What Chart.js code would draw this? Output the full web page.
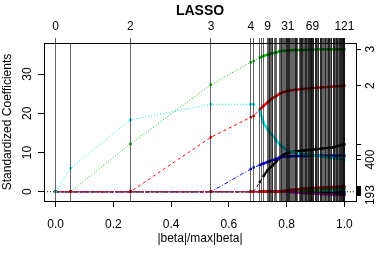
<!DOCTYPE html>
<html><head><meta charset="utf-8">
<script src="https://cdn.jsdelivr.net/npm/chart.js@4.4.1/dist/chart.umd.min.js"></script>
<style>html,body{margin:0;padding:0;background:#fff;}#wrap{width:379px;height:256px;}</style>
</head><body><div id="wrap"><canvas id="c" width="379" height="256"></canvas></div>
<script>
// x positions (|beta|/max|beta|) where the coefficient paths are sampled
const pathX = [0, 0.052, 0.259, 0.538, 0.676, 0.686, 0.707, 0.720, 0.734, 0.750, 0.764, 0.776, 0.790, 0.804, 0.830, 0.860, 0.889, 0.920, 0.960, 1.0];
// coefficient paths
const coefVar3   = [0, 0, 12.2, 27.3, 33.0, 33.3, 34.2, 34.6, 34.9, 35.3, 35.5, 35.8, 35.9, 36.0, 36.1, 36.1, 36.2, 36.3, 36.3, 36.3];
const coefVar2   = [0, 0, 0, 13.9, 19.0, 19.3, 21.0, 21.9, 22.8, 23.8, 24.4, 25.0, 25.4, 25.7, 26.0, 26.2, 26.4, 26.6, 26.8, 27.0];
const coefVar400 = [0, 6.0, 18.3, 22.3, 22.3, 22.3, 20.5, 17.6, 15.8, 14.4, 13.2, 12.0, 11.2, 10.4, 10.0, 9.6, 9.3, 9.0, 8.6, 8.2];
const coefBlue   = [0, 0, 0, 0, 5.8, 6.2, 6.8, 7.2, 7.6, 8.0, 8.4, 8.7, 8.9, 9.0, 9.1, 9.1, 9.2, 9.2, 9.2, 9.2];
const coefBlack  = [0, 0, 0, 0, 0, 0, 2.5, 4.0, 5.5, 6.6, 7.7, 8.7, 9.5, 9.9, 10.3, 10.5, 10.7, 11.0, 11.3, 12.1];
const coefSmallRed     = [0, 0, 0, 0, 0, 0, 0, 0, 0, 0, 0, 0, 0.2, 0.4, 0.6, 0.8, 0.95, 1.1, 1.2, 1.35];
const coefSmallMagenta = [0, 0, 0, 0, 0, 0, 0, 0, 0, 0, 0, 0, 0, 0, -0.2, -0.35, -0.5, -0.6, -0.7, -0.85];
const coefSmallGreen   = [0, 0, 0, 0, 0, 0, 0, 0, 0, 0, 0, 0, 0, 0, 0, 0.3, 0.5, 0.7, 0.85, 1.0];
const coefSmallBlack   = [0, 0, 0, 0, 0, 0, 0, 0, 0, 0, 0, 0, 0, 0, 0, 0, -0.2, -0.3, -0.45, -0.55];
const coefSmallCyan    = [0, 0, 0, 0, 0, 0, 0, 0, 0, 0, 0, 0, 0, 0, 0, 0, 0, 0.2, 0.4, 0.6];
const coefZeroBand     = [0, 0, 0, 0, 0, 0, 0, 0, 0, 0, 0, 0, 0, 0, 0, 0, 0, 0, 0, 0];
// LARS step positions (vertical lines), step index = position in this array
const steps = [0, 0.052, 0.259, 0.538, 0.676, 0.686, 0.707, 0.712, 0.720, 0.734,
  0.7366, 0.7390, 0.7417, 0.7441, 0.7469, 0.7493, 0.7514, 0.7593, 0.7614, 0.7638, 0.7762, 0.7783, 0.7807, 0.7828, 0.7852, 0.7876, 0.7917, 0.7955, 0.7986, 0.8007, 0.8021,
  0.8041,
  0.8059, 0.8076, 0.8093, 0.8110, 0.8128, 0.8159, 0.8193, 0.8221, 0.8279, 0.8297, 0.8314, 0.8331, 0.8348, 0.8390, 0.8428, 0.8462, 0.8490, 0.8507, 0.8524, 0.8541, 0.8559, 0.8597, 0.8631, 0.8652, 0.8669, 0.8686, 0.8703, 0.8738, 0.8755, 0.8772, 0.8790, 0.8807, 0.8824, 0.8838, 0.8852, 0.8866, 0.8876,
  0.8890,
  0.8907, 0.8924, 0.8941, 0.8983, 0.9000, 0.9017, 0.9034, 0.9079, 0.9097, 0.9114, 0.9159, 0.9176, 0.9193, 0.9210, 0.9255, 0.9290, 0.9310, 0.9328, 0.9345, 0.9386, 0.9424, 0.9441, 0.9459, 0.9476, 0.9493, 0.9534, 0.9552, 0.9569, 0.9610, 0.9628, 0.9645, 0.9662, 0.9703, 0.9721, 0.9738, 0.9755, 0.9772, 0.9810, 0.9828, 0.9845, 0.9862, 0.9879, 0.9897, 0.9914, 0.9931, 0.9945, 0.9959, 0.9969, 0.9979, 0.9986, 0.9993,
  1.0];
const shownStepLabels = [0, 2, 3, 4, 9, 31, 69, 121];
const xTicks = [0, 0.2, 0.4, 0.6, 0.8, 1.0];
const yTicks = [0, 10, 20, 30];
const rightTickValues = [36.3, 27.0, 12.1, 9.2, 8.2, 1.35, 1.1, 1.0, 0.85, 0.6, 0.35, 0.1, -0.15, -0.4, -0.55, -0.65, -0.85];
const rightTickLabels = ['3', '2', '', '', '400', '', '', '', '', '', '', '', '', '', '', '', '193'];

const X_MIN = -0.04, X_MAX = 1.04, Y_MIN = -2.35, Y_MAX = 37.9;
const FONT = '"Liberation Sans", Arial, Helvetica, sans-serif';
Chart.defaults.font.family = FONT;
Chart.defaults.font.size = 12;
Chart.defaults.color = '#000';

function path(label, vals, color, dash, thickFrom) {
  return {
    label, data: vals.map((y, i) => ({x: pathX[i], y})),
    borderColor: color, backgroundColor: color, borderWidth: 1, borderDash: dash,
    pointStyle: 'rect', pointRadius: 1.7, pointBorderWidth: 0, pointBackgroundColor: color,
    tension: 0,
    segment: {
      borderWidth: c => c.p0.parsed.x >= thickFrom ? 2.4 : 1,
      borderDash: c => c.p0.parsed.x >= thickFrom ? [] : dash
    }
  };
}
const datasets = [
  path('400', coefVar400, '#00e5e5', [1, 2], 0.70),
  path('small red', coefSmallRed, '#e00000', [3, 2], 0.70),
  path('small magenta', coefSmallMagenta, '#d000d0', [3, 2], 0.70),
  path('small green', coefSmallGreen, '#00b000', [1, 2], 0.70),
  path('small black', coefSmallBlack, '#000000', [3, 2], 0.70),
  path('small cyan', coefSmallCyan, '#00c8c8', [1, 2], 0.70),
  path('zero', coefZeroBand, '#1515b0', [4, 2, 1, 2], 0.70),
  path('3', coefVar3, '#00c000', [1, 2], 0.70),
  path('2', coefVar2, '#ff0000', [3, 3], 0.70),
  path('blue', coefBlue, '#0000ff', [4, 2, 1, 2], 0.70),
  path('black', coefBlack, '#000000', [3, 3], 0.72),
  { label: 'h0', data: [{x: X_MIN, y: 0}, {x: X_MAX, y: 0}], borderColor: '#000', borderWidth: 1,
    borderDash: [1, 2], pointRadius: 0 }
];

// rotated (R style) tick labels for the left and right axes
const rotatedLabels = {
  id: 'rotatedLabels',
  afterDraw(chart) {
    const ctx = chart.ctx, ys = chart.scales.y, y2 = chart.scales.y2;
    ctx.save();
    ctx.font = '12px ' + FONT;
    ctx.fillStyle = '#000';
    ctx.textAlign = 'center';
    ctx.textBaseline = 'middle';
    const put = (txt, x, y) => { ctx.save(); ctx.translate(x, y); ctx.rotate(-Math.PI / 2); ctx.fillText(txt, 0, 0); ctx.restore(); };
    yTicks.forEach(v => put(String(v), ys.right - 16, ys.getPixelForValue(v)));
    rightTickValues.forEach((v, i) => { if (rightTickLabels[i]) put(rightTickLabels[i], y2.left + 14.5, y2.getPixelForValue(v)); });
    ctx.restore();
  }
};

new Chart(document.getElementById('c'), {
  type: 'line',
  data: { datasets },
  plugins: [rotatedLabels],
  options: {
    responsive: false, animation: false, devicePixelRatio: 1,
    layout: { padding: 0 },
    plugins: {
      legend: { display: false }, tooltip: { enabled: false },
      title: { display: true, text: 'LASSO', fullSize: false, color: '#000',
        font: { size: 14, weight: 'bold', family: FONT }, padding: { top: 3, bottom: 0 } }
    },
    scales: {
      x: {
        type: 'linear', position: 'bottom', min: X_MIN, max: X_MAX,
        afterBuildTicks: s => { s.ticks = xTicks.map(v => ({value: v})); },
        afterFit: s => { s.height = 55; },
        ticks: { autoSkip: false, maxRotation: 0, padding: 10, callback: v => Number(v).toFixed(1) },
        grid: { display: true, drawOnChartArea: false, drawTicks: true, tickLength: 6, color: '#000' },
        border: { display: true, color: '#000' },
        title: { display: true, text: '|beta|/max|beta|', font: { size: 12 }, padding: { top: 0, bottom: 9.8 } }
      },
      x2: {
        type: 'linear', position: 'top', min: X_MIN, max: X_MAX,
        afterBuildTicks: s => { s.ticks = steps.map(v => ({value: v})); },
        afterFit: s => { s.height = 23.2; },
        ticks: { autoSkip: false, maxRotation: 0, minRotation: 0, padding: 4,
          callback: (v, i) => shownStepLabels.includes(i) ? String(i) : '' },
        grid: { z: 1, display: true, drawOnChartArea: true, drawTicks: true, tickLength: 5,
          color: 'rgba(0,0,0,0.6)',
          tickColor: c => c.index === 1 ? 'rgba(0,0,0,0)' : 'rgba(0,0,0,0.65)' },
        border: { display: true, color: '#000', z: 1 }
      },
      y: {
        type: 'linear', position: 'left', min: Y_MIN, max: Y_MAX,
        afterBuildTicks: s => { s.ticks = yTicks.map(v => ({value: v})); },
        afterFit: s => { s.width = 44; },
        ticks: { display: false },
        grid: { display: true, drawOnChartArea: false, drawTicks: true, tickLength: 6, color: '#000' },
        border: { display: true, color: '#000' },
        title: { display: true, text: 'Standardized Coefficients', font: { size: 12 }, padding: { top: 0, bottom: 0 } }
      },
      y2: {
        type: 'linear', position: 'right', min: Y_MIN, max: Y_MAX,
        afterBuildTicks: s => { s.ticks = rightTickValues.map(v => ({value: v})); },
        afterFit: s => { s.width = 23; },
        ticks: { display: false },
        grid: { display: true, drawOnChartArea: false, drawTicks: true, tickLength: 5, color: '#000' },
        border: { display: true, color: '#000' }
      }
    }
  }
});
</script>
</body></html>
